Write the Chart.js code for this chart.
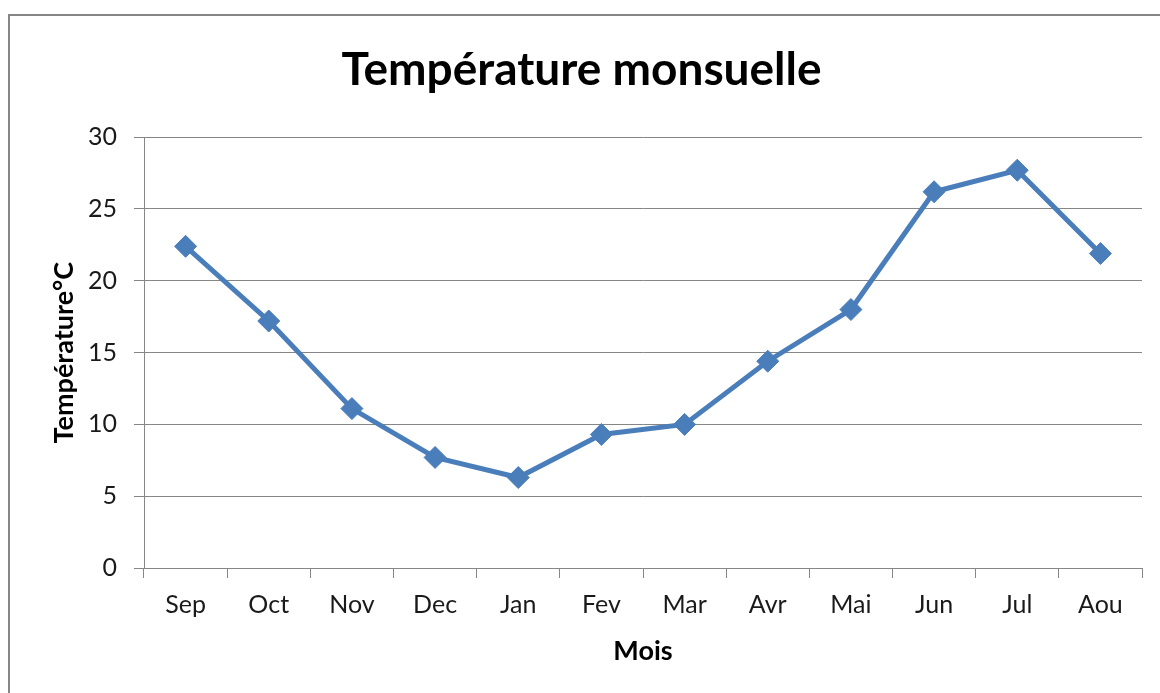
<!DOCTYPE html>
<html>
<head>
<meta charset="utf-8">
<script src="https://cdn.jsdelivr.net/npm/chart.js@4/dist/chart.umd.min.js"></script>
<style>
    html, body { margin: 0; padding: 0; background: #fff; overflow: hidden; }
    #cadre {
        position: absolute; left: 8px; top: 14px;
        width: 1300px; height: 800px;
        border: 2px solid #868686;
    }
    #graphique { position: absolute; left: 0; top: 0; }
</style>
</head>
<body>
<div id="cadre"></div>
<canvas id="graphique" width="1160" height="693"></canvas>
<script>
// donnees
const mois = ['Sep', 'Oct', 'Nov', 'Dec', 'Jan', 'Fev', 'Mar', 'Avr', 'Mai', 'Jun', 'Jul', 'Aou'];
const temperatures = [22.4, 17.2, 11.1, 7.7, 6.3, 9.3, 10.0, 14.4, 18.0, 26.2, 27.7, 21.9];

const bleu = '#4A7EBB';
const gris = '#868686';
const police = 'Lato, "Open Sans", sans-serif';

document.addEventListener('DOMContentLoaded', () => {
    const ctx = document.getElementById('graphique').getContext('2d');

    new Chart(ctx, {
        type: 'line',
        data: {
            labels: mois,
            datasets: [{
                data: temperatures,
                borderColor: bleu,
                backgroundColor: bleu,
                borderWidth: 5,
                pointStyle: 'rectRot',
                pointRadius: 11,
                pointBorderWidth: 1,
                pointBackgroundColor: bleu,
                pointBorderColor: bleu,
                tension: 0
            }]
        },
        options: {
            responsive: false,
            animation: false,
            layout: { padding: { left: 21, right: 18, top: 0, bottom: 0 } },
            plugins: {
                legend: { display: false },
                tooltip: { enabled: false },
                title: {
                    display: true,
                    text: 'Température monsuelle',
                    color: '#000',
                    font: { family: police, size: 46, weight: 'bold' },
                    padding: { top: 43, bottom: 39 }
                }
            },
            scales: {
                x: {
                    offset: true,
                    grid: {
                        offset: true,
                        drawOnChartArea: false,
                        drawTicks: true,
                        tickLength: 10,
                        color: gris
                    },
                    border: { color: gris, width: 1 },
                    ticks: {
                        color: '#1a1a1a',
                        padding: 12,
                        font: { family: police, size: 25 }
                    },
                    title: {
                        display: true,
                        text: 'Mois',
                        color: '#000',
                        font: { family: police, size: 27, weight: 'bold' },
                        padding: { top: 0, bottom: 26 }
                    },
                    afterFit: (scale) => { scale.height = 125; }
                },
                y: {
                    min: 0,
                    max: 30,
                    ticks: {
                        stepSize: 5,
                        color: '#1a1a1a',
                        padding: 17,
                        font: { family: police, size: 25 }
                    },
                    grid: {
                        color: gris,
                        tickLength: 10
                    },
                    border: { color: gris, width: 1 },
                    title: {
                        display: true,
                        text: 'Température°C',
                        color: '#000',
                        font: { family: police, size: 27, weight: 'bold' },
                        padding: { top: 27, bottom: 0 }
                    },
                    afterFit: (scale) => { scale.width = 123; }
                }
            }
        }
    });
});
</script>
</body>
</html>
